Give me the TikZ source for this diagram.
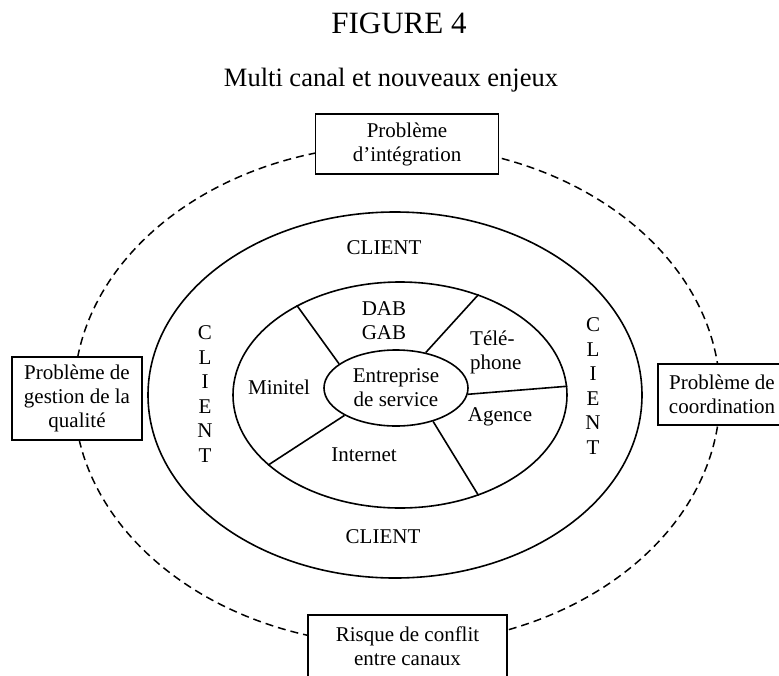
\documentclass[tikz,border=0pt]{standalone}
\usepackage{fontspec}
\setmainfont{Liberation Serif}
\usetikzlibrary{shapes.geometric}
\tikzset{
  pbox/.style={rectangle, draw, line width=1.8pt, fill=white, align=center, inner sep=0pt},
  ring/.style={ellipse, draw, line width=1.6pt, inner sep=0pt},
  sep/.style={line width=1.6pt},
  lbl/.style={align=center, inner sep=0pt},
  vert/.style={lbl, font=\fontsize{21}{24.6}\selectfont},
}

\begin{document}
\begin{tikzpicture}[x=1pt,y=-1pt,font=\fontsize{21}{24}\selectfont]
\clip (0,0) rectangle (779,675);
% titles
\node[lbl,font=\fontsize{31}{36}\selectfont] (fig) at (399,23) {FIGURE 4};
\node[lbl,font=\fontsize{26.5}{30}\selectfont] (ttl) at (391,80) {Multi canal et nouveaux enjeux};
% rings
\node[ring,dashed,line width=1.5pt,dash pattern=on 8pt off 5pt,minimum width=646pt,minimum height=500pt] (enjeux) at (397,395) {};
\node[ring,minimum width=494pt,minimum height=366pt] (client) at (395,395) {};
\node[ring,minimum width=334pt,minimum height=226pt] (canaux) at (400,395) {};
\node[ring,align=center,minimum width=144pt,minimum height=76pt] (entr) at (396,388) {Entreprise\\de service};
% channel dividers
\draw[sep] (entr.157) -- (canaux.139);
\draw[sep] (entr.50) -- (canaux.52);
\draw[sep] (entr.-5) -- (canaux.3);
\draw[sep] (entr.-42) -- (canaux.-52);
\draw[sep] (entr.-152) -- (canaux.-152);
% labels
\node[lbl] (cltop) at (384,248) {CLIENT};
\node[lbl] (clbot) at (383,537) {CLIENT};
\node[vert] (clleft) at (205,394) {C\\L\\I\\E\\N\\T};
\node[vert] (clright) at (593,386) {C\\L\\I\\E\\N\\T};
\node[lbl] (dab) at (384,321) {DAB\\GAB};
\node[lbl,align=left,anchor=west] (tel) at (470,352) {Télé-\\phone};
\node[lbl] (minitel) at (279,387) {Minitel};
\node[lbl] (agence) at (500,417) {Agence};
\node[lbl] (internet) at (364,455) {Internet};
% problem boxes
\node[pbox,minimum width=183pt,minimum height=60pt] (integ) at (407,144) {Problème\\d’intégration};
\node[pbox,minimum width=130pt,minimum height=83pt] (qualite) at (77,398.5) {Problème de\\gestion de la\\qualité};
\node[pbox,minimum width=128pt,minimum height=61pt] (coord) at (722,394.5) {Problème de\\coordination};
\node[pbox,minimum width=199pt,minimum height=62pt] (conflit) at (407.5,646) {Risque de conflit\\entre canaux};
\end{tikzpicture}
\end{document}
